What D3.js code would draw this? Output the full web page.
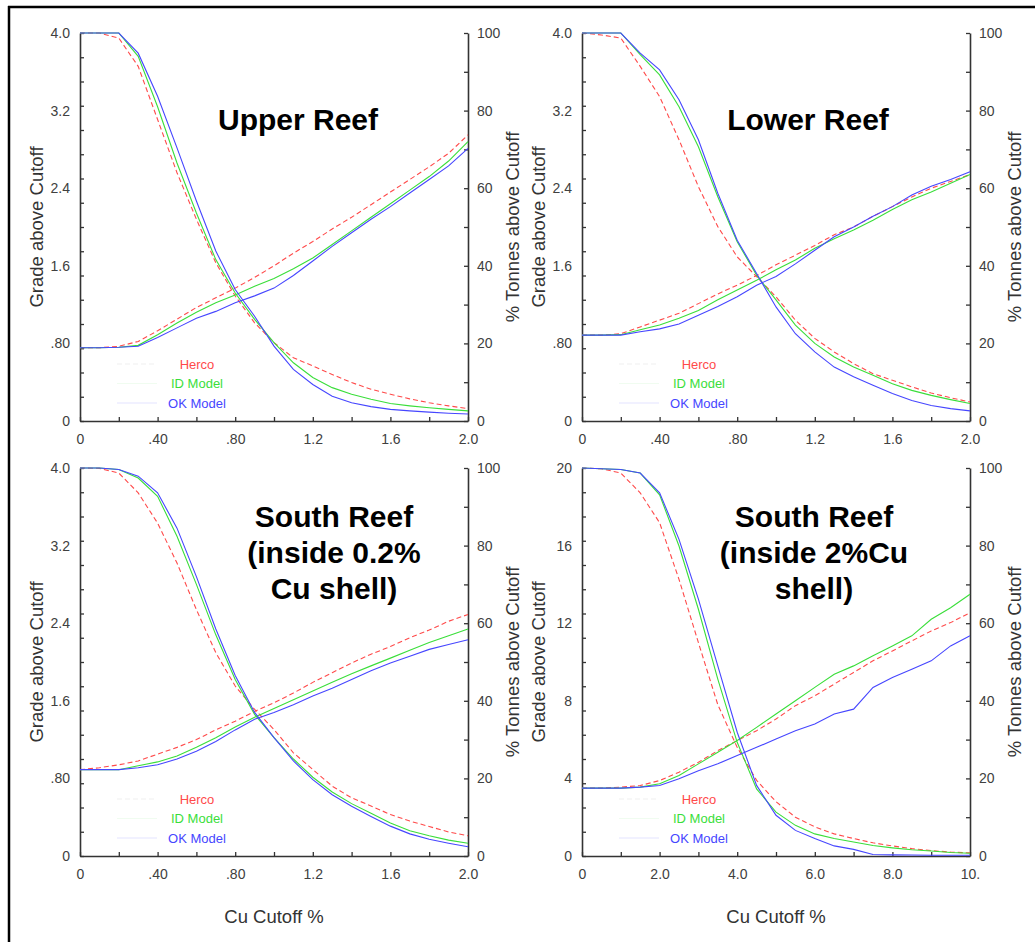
<!DOCTYPE html>
<html><head><meta charset="utf-8">
<script src="https://cdn.jsdelivr.net/npm/d3@7"></script>
<style>
body{margin:0;background:#fff}
svg{display:block}
text{font-family:"Liberation Sans",Arial,Helvetica,sans-serif}
</style>
</head><body>
<svg id="chart" width="1035" height="942"></svg>
<script>
// ---------- DATA ----------
const seriesNames = ["Herco", "ID Model", "OK Model"];

const cutoffSmall = [0,0.1,0.2,0.3,0.4,0.5,0.6,0.7,0.8,0.9,1.0,1.1,1.2,1.3,1.4,1.5,1.6,1.7,1.8,1.9,2.0];
const cutoffLarge = [0,0.5,1,1.5,2,2.5,3,3.5,4,4.5,5,5.5,6,6.5,7,7.5,8,8.5,9,9.5,10];

// Upper Reef
const upperTonHerco = [100,100,98.7,91.4,77.7,64,52,40.8,32.2,25.3,20.2,16.3,14.2,12,9.9,8.2,6.9,5.7,4.7,3.9,3.2];
const upperTonId    = [100,100,100,94,81,66.5,53.6,41.6,33,26.2,20.2,15,11.2,8.6,6.9,5.6,4.5,3.9,3.4,3.0,2.6];
const upperTonOk    = [100,100,100,94.8,83.7,70.4,56.7,43.8,33.9,27.0,19.3,13.3,9.4,6.4,4.7,3.7,3.0,2.6,2.3,2.0,1.8];
const upperGradeHerco = [0.755,0.755,0.77,0.82,0.93,1.05,1.17,1.27,1.37,1.48,1.60,1.73,1.85,1.98,2.10,2.23,2.36,2.49,2.62,2.76,2.95];
const upperGradeId    = [0.755,0.755,0.76,0.78,0.89,1.01,1.12,1.22,1.30,1.39,1.47,1.57,1.68,1.82,1.96,2.10,2.24,2.38,2.52,2.68,2.88];
const upperGradeOk    = [0.755,0.755,0.76,0.77,0.86,0.96,1.06,1.13,1.22,1.29,1.37,1.50,1.65,1.80,1.94,2.08,2.21,2.35,2.49,2.63,2.81];

// Lower Reef
const lowerTonHerco = [100,99.5,98.7,91.4,83.6,72.5,60.4,50.1,42.3,37.2,32,26,21.3,17.8,14.8,12.2,10.5,8.8,7.2,6,4.9];
const lowerTonId    = [100,100,100,94.4,89.2,81,70.7,57.8,46.2,37.6,31.2,24.7,20,16.5,13.9,11.8,9.6,7.9,6.6,5.5,4.5];
const lowerTonOk    = [100,100,100,94.8,90.5,82.8,72.5,58.7,46.6,38,29.4,22.5,17.8,13.9,11.4,9.2,7.1,5.3,4.0,3.2,2.6];
const lowerGradeHerco = [0.885,0.885,0.90,0.97,1.04,1.11,1.21,1.31,1.40,1.50,1.61,1.71,1.81,1.92,2.0,2.11,2.21,2.31,2.40,2.47,2.54];
const lowerGradeId    = [0.885,0.885,0.89,0.94,0.99,1.06,1.14,1.25,1.35,1.45,1.56,1.66,1.78,1.88,1.97,2.07,2.18,2.28,2.36,2.45,2.54];
const lowerGradeOk    = [0.885,0.885,0.885,0.92,0.95,1.0,1.09,1.18,1.28,1.40,1.49,1.62,1.76,1.90,2.0,2.11,2.21,2.33,2.42,2.49,2.57];

// South Reef (inside 0.2% Cu shell)
const south02TonHerco = [100,99.9,98.7,93.6,85.8,75.5,63.5,52.4,43.8,37.8,32.6,26.6,22.3,18,15,12.9,10.7,9,7.6,6.2,5.2];
const south02TonId    = [100,100,99.6,97.4,92.7,82.4,70,57,45.5,36.5,30.5,25,20.3,16.5,13.5,11,8.5,6.5,5.2,4.1,3.3];
const south02TonOk    = [100,100,99.6,97.9,93.6,84.5,72,58.5,46.5,37,30.5,24.5,19.7,15.8,12.8,10.2,7.7,5.7,4.3,3.3,2.4];
const south02GradeHerco = [0.89,0.91,0.94,0.98,1.05,1.12,1.20,1.30,1.39,1.49,1.58,1.68,1.79,1.89,1.99,2.08,2.16,2.25,2.33,2.42,2.49];
const south02GradeId    = [0.89,0.89,0.89,0.93,0.97,1.03,1.12,1.22,1.33,1.43,1.52,1.61,1.70,1.79,1.88,1.96,2.04,2.12,2.20,2.27,2.34];
const south02GradeOk    = [0.89,0.89,0.89,0.91,0.94,1.0,1.08,1.18,1.30,1.41,1.48,1.56,1.65,1.73,1.82,1.91,1.99,2.06,2.13,2.18,2.23];

// South Reef (inside 2%Cu shell)
const south2TonHerco = [100,99.8,98.7,93.6,85.9,71.3,55,39,28,19.5,14,10,7.5,5.7,4.5,3.4,2.6,1.9,1.4,1.0,0.8];
const south2TonId    = [100,99.8,99.6,98.7,93.1,79.9,63.6,45.6,29.3,17.3,11.3,7.9,5.7,4.5,3.6,2.7,2.1,1.6,1.3,0.9,0.7];
const south2TonOk    = [100,99.8,99.6,98.7,93.6,81.6,66.2,49,31.9,18.2,10.5,6.6,4.5,2.6,1.7,0.4,0.3,0.25,0.2,0.2,0.2];
const south2GradeHerco = [3.5,3.5,3.55,3.63,3.89,4.32,4.83,5.43,5.95,6.46,7.06,7.75,8.26,8.86,9.46,10.06,10.57,11.09,11.6,12.03,12.54];
const south2GradeId    = [3.5,3.5,3.5,3.55,3.72,4.15,4.75,5.35,5.95,6.63,7.32,8.0,8.69,9.37,9.80,10.32,10.83,11.35,12.2,12.8,13.49];
const south2GradeOk    = [3.5,3.5,3.5,3.55,3.63,3.98,4.40,4.75,5.18,5.60,6.03,6.46,6.80,7.32,7.57,8.69,9.2,9.63,10.06,10.83,11.35];

// Tick labels
const xTickValsSmall = [0,0.4,0.8,1.2,1.6,2.0];
const xTickLabelsSmall = ["0",".40",".80","1.2","1.6","2.0"];
const xTickValsLarge = [0,2,4,6,8,10];
const xTickLabelsLarge = ["0","2.0","4.0","6.0","8.0","10."];
const gradeTickValsSmall = [0,0.8,1.6,2.4,3.2,4.0];
const gradeTickLabelsSmall = ["0",".80","1.6","2.4","3.2","4.0"];
const gradeTickValsLarge = [0,4,8,12,16,20];
const gradeTickLabelsLarge = ["0","4","8","12","16","20"];
const tonTickVals = [0,20,40,60,80,100];
const tonTickLabels = ["0","20","40","60","80","100"];

const titleUpper = ["Upper Reef"];
const titleLower = ["Lower Reef"];
const titleSouth02 = ["South Reef","(inside 0.2%","Cu shell)"];
const titleSouth2 = ["South Reef","(inside 2%Cu","shell)"];

const gradeAxisTitle = "Grade above Cutoff";
const tonAxisTitle = "% Tonnes above Cutoff";
const xAxisTitle = "Cu Cutoff %";

// ---------- LAYOUT / STYLE ----------
const colors = ["#ff4a4a", "#3ade3a", "#4646ff"];
const dashes = ["5,3", null, null];
const PW = 388, PH = 388;

const panels = [
  {left:80, top:33, x:cutoffSmall, xMax:2, gMax:4, ton:[upperTonHerco,upperTonId,upperTonOk], grade:[upperGradeHerco,upperGradeId,upperGradeOk],
   xv:xTickValsSmall, xl:xTickLabelsSmall, xMinorStep:0.2, gv:gradeTickValsSmall, gl:gradeTickLabelsSmall, gMinorStep:0.25,
   title:titleUpper, titleY:130, xTitle:false},
  {left:582, top:33, x:cutoffSmall, xMax:2, gMax:4, ton:[lowerTonHerco,lowerTonId,lowerTonOk], grade:[lowerGradeHerco,lowerGradeId,lowerGradeOk],
   xv:xTickValsSmall, xl:xTickLabelsSmall, xMinorStep:0.2, gv:gradeTickValsSmall, gl:gradeTickLabelsSmall, gMinorStep:0.25,
   title:titleLower, titleY:130, xTitle:false},
  {left:80, top:468, x:cutoffSmall, xMax:2, gMax:4, ton:[south02TonHerco,south02TonId,south02TonOk], grade:[south02GradeHerco,south02GradeId,south02GradeOk],
   xv:xTickValsSmall, xl:xTickLabelsSmall, xMinorStep:0.2, gv:gradeTickValsSmall, gl:gradeTickLabelsSmall, gMinorStep:0.25,
   title:titleSouth02, titleY:527, xTitle:true},
  {left:582, top:468, x:cutoffLarge, xMax:10, gMax:20, ton:[south2TonHerco,south2TonId,south2TonOk], grade:[south2GradeHerco,south2GradeId,south2GradeOk],
   xv:xTickValsLarge, xl:xTickLabelsLarge, xMinorStep:1, gv:gradeTickValsLarge, gl:gradeTickLabelsLarge, gMinorStep:1.25,
   title:titleSouth2, titleY:527, xTitle:true}
];
const titleCenters = [298, 808, 334, 814];

const svg = d3.select("#chart");

// frame lines (top and left)
svg.append("line").attr("x1",8).attr("x2",1035).attr("y1",7).attr("y2",7).attr("stroke","#000").attr("stroke-width",2.5);
svg.append("line").attr("x1",9).attr("x2",9).attr("y1",6).attr("y2",942).attr("stroke","#000").attr("stroke-width",2.5);

const axisColor = "#333";
const labelColor = "#404040";

panels.forEach((p, pi) => {
  const L = p.left, T = p.top, R = L + PW, B = T + PH;
  const x = d3.scaleLinear().domain([0, p.xMax]).range([L, R]);
  const yG = d3.scaleLinear().domain([0, p.gMax]).range([B, T]);
  const yT = d3.scaleLinear().domain([0, 100]).range([B, T]);
  const g = svg.append("g");

  const style = sel => {
    sel.selectAll("path.domain").attr("stroke", axisColor).attr("stroke-width", 1.6);
    sel.selectAll(".tick line").attr("stroke", axisColor).attr("stroke-width", 1.3);
    sel.selectAll("text").attr("font-size", 14).attr("fill", labelColor)
      .attr("font-family", '"Liberation Sans",Arial,sans-serif');
  };

  const xMinor = d3.range(0, p.xMax + 1e-9, p.xMinorStep);
  const gMinor = d3.range(0, p.gMax + 1e-9, p.gMinorStep);
  const tMinor = d3.range(0, 100.001, 10);

  // left axis: minor ticks inward + labels
  g.append("g").attr("transform", `translate(${L},0)`)
    .call(d3.axisLeft(yG).tickValues(gMinor).tickSizeInner(-4).tickSizeOuter(0).tickFormat(""))
    .call(style);
  g.append("g").attr("transform", `translate(${L},0)`)
    .call(d3.axisLeft(yG).tickValues(p.gv).tickSize(0).tickPadding(10).tickFormat((d,i) => p.gl[i]))
    .call(s => s.select("path.domain").remove())
    .call(style);

  // right axis
  g.append("g").attr("transform", `translate(${R},0)`)
    .call(d3.axisRight(yT).tickValues(tMinor).tickSizeInner(-4).tickSizeOuter(0).tickFormat(""))
    .call(style);
  g.append("g").attr("transform", `translate(${R},0)`)
    .call(d3.axisRight(yT).tickValues(tonTickVals).tickSize(0).tickPadding(9).tickFormat((d,i) => tonTickLabels[i]))
    .call(s => s.select("path.domain").remove())
    .call(style);

  // bottom axis
  g.append("g").attr("transform", `translate(0,${B})`)
    .call(d3.axisBottom(x).tickValues(xMinor).tickSizeInner(-4).tickSizeOuter(0).tickFormat(""))
    .call(style);
  g.append("g").attr("transform", `translate(0,${B})`)
    .call(d3.axisBottom(x).tickValues(p.xv).tickSize(0).tickPadding(13).tickFormat((d,i) => p.xl[i]))
    .call(s => s.select("path.domain").remove())
    .call(style);

  // axis titles
  g.append("text").attr("transform", `translate(${L - 43},${(T + B) / 2}) rotate(-90)`)
    .attr("text-anchor", "middle").attr("dy", "0.35em").attr("font-size", 18.5).attr("fill", "#333")
    .text(gradeAxisTitle);
  g.append("text").attr("transform", `translate(${R + 45},${(T + B) / 2}) rotate(-90)`)
    .attr("text-anchor", "middle").attr("dy", "0.35em").attr("font-size", 18.5).attr("fill", "#333")
    .text(tonAxisTitle);
  if (p.xTitle) {
    g.append("text").attr("x", (L + R) / 2).attr("y", 917).attr("dy", "0.35em")
      .attr("text-anchor", "middle").attr("font-size", 18.5).attr("fill", "#333").text(xAxisTitle);
  }

  // curves
  const lineT = d3.line().x((d, i) => x(p.x[i])).y(d => yT(d));
  const lineG = d3.line().x((d, i) => x(p.x[i])).y(d => yG(d));
  [0, 1, 2].forEach(si => {
    g.append("path").datum(p.ton[si]).attr("d", lineT).attr("fill", "none")
      .attr("stroke", colors[si]).attr("stroke-width", 1.1).attr("stroke-dasharray", dashes[si]);
    g.append("path").datum(p.grade[si]).attr("d", lineG).attr("fill", "none")
      .attr("stroke", colors[si]).attr("stroke-width", 1.1).attr("stroke-dasharray", dashes[si]);
  });

  // legend
  seriesNames.forEach((name, si) => {
    const ly = T + 331 + si * 19.5;
    g.append("line").attr("x1", L + 37).attr("x2", L + 77).attr("y1", ly).attr("y2", ly)
      .attr("stroke", si === 0 ? "#999" : colors[si]).attr("stroke-opacity", si === 1 ? 0.08 : 0.15)
      .attr("stroke-width", 1.2).attr("stroke-dasharray", dashes[si]);
    g.append("text").attr("x", L + 117).attr("y", ly).attr("dy", "0.35em").attr("text-anchor", "middle")
      .attr("font-size", 13).attr("fill", colors[si]).text(name);
  });

  // title
  p.title.forEach((line, li) => {
    g.append("text").attr("x", titleCenters[pi]).attr("y", p.titleY + li * 36)
      .attr("text-anchor", "middle").attr("font-size", 30).attr("font-weight", "bold").attr("fill", "#000")
      .text(line);
  });
});
</script>
</body></html>
